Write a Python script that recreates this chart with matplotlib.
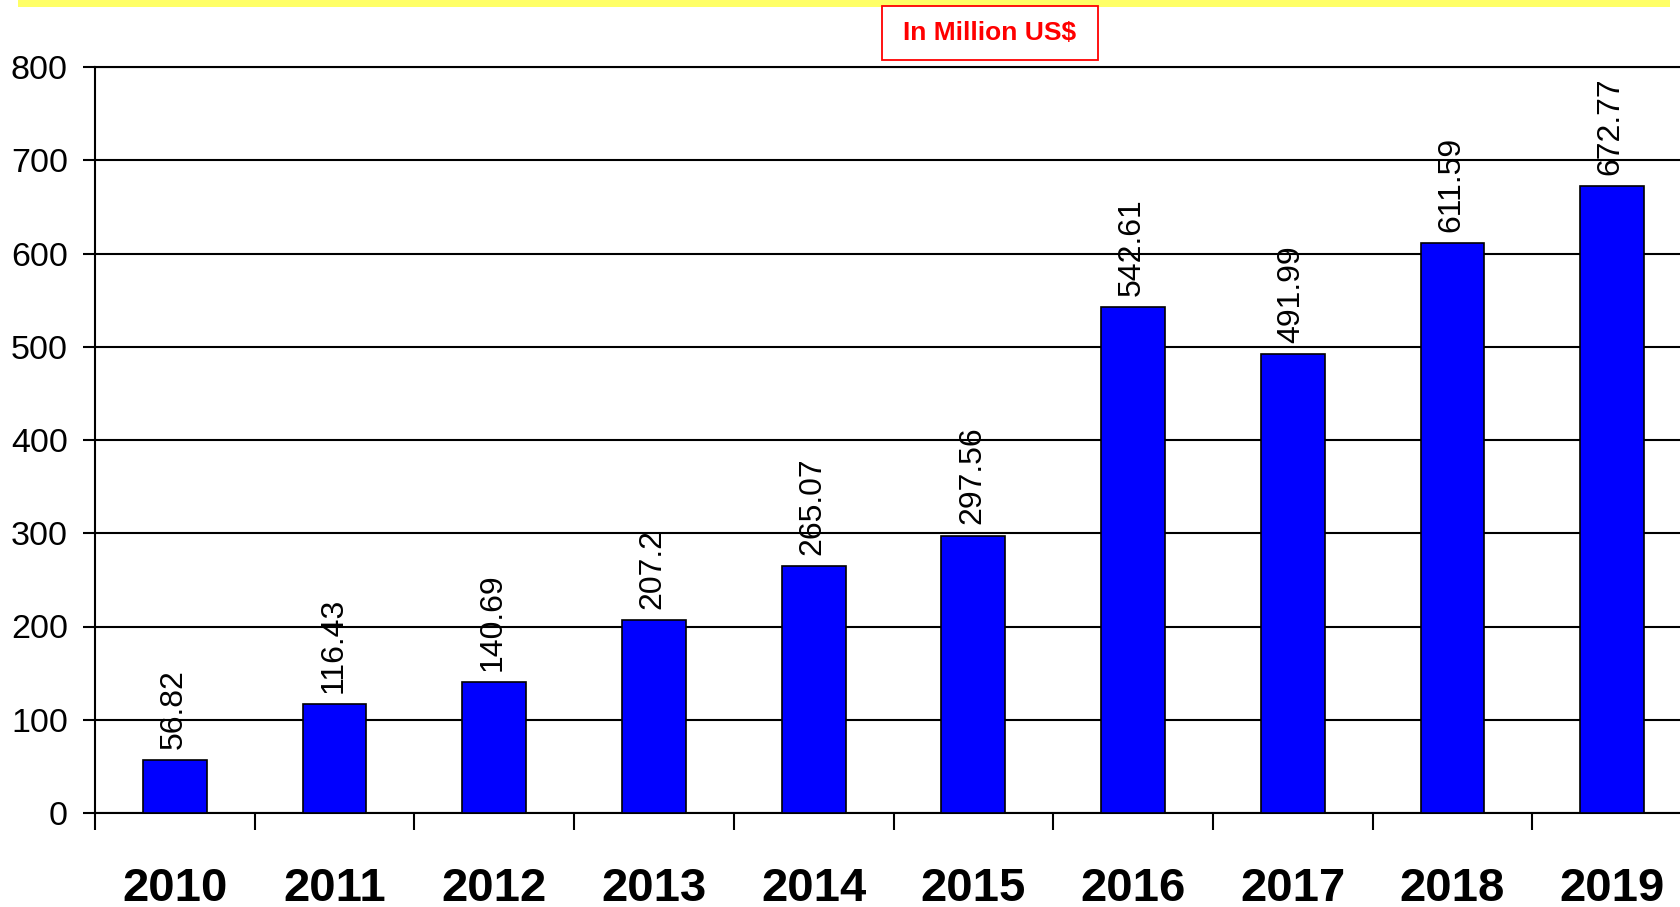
import matplotlib
matplotlib.use("Agg")
import matplotlib.pyplot as plt
from matplotlib.patches import Rectangle
from matplotlib.ticker import FixedLocator, NullFormatter

years = ["2010", "2011", "2012", "2013", "2014", "2015", "2016", "2017", "2018", "2019"]
values = [56.82, 116.43, 140.69, 207.2, 265.07, 297.56, 542.61, 491.99, 611.59, 672.77]
value_labels = ["56.82", "116.43", "140.69", "207.2", "265.07", "297.56",
                "542.61", "491.99", "611.59", "672.77"]
y_ticks = [0, 100, 200, 300, 400, 500, 600, 700, 800]
unit_label = "In Million US$"

plt.rcParams["font.family"] = ["Liberation Sans", "DejaVu Sans"]

W, H = 1681, 907
fig = plt.figure(figsize=(W / 100, H / 100), dpi=100)
fig.patch.set_facecolor("white")

# yellow strip along the top edge
fig.add_artist(Rectangle((18 / W, 1 - 7 / H), (1670 - 18) / W, 7 / H,
                         transform=fig.transFigure, facecolor="#FFFF66",
                         edgecolor="none"))

ax = fig.add_axes([95 / W, 1 - 813 / H, 1597 / W, (813 - 67) / H])
x = list(range(len(years)))
ax.bar(x, values, width=0.4, color="#0000FF", edgecolor="black",
       linewidth=1.2, zorder=3)

ax.set_xlim(-0.5, len(years) - 0.5)
ax.set_ylim(0, 800)

# horizontal gridlines
ax.set_yticks(y_ticks)
ax.set_yticklabels([str(t) for t in y_ticks])
ax.yaxis.grid(True, color="black", linewidth=1.5, zorder=1)
ax.set_axisbelow(True)
ax.tick_params(axis="y", which="major", direction="out", length=8.5,
               width=1.5, pad=11, labelsize=24.5, colors="black")

# category labels at bar centers, tick marks at the category boundaries
ax.set_xticks(x)
ax.set_xticklabels(years, fontsize=34, fontweight="bold")
ax.tick_params(axis="x", which="major", length=0, pad=39)
ax.xaxis.set_minor_locator(FixedLocator([i - 0.5 for i in range(len(years) + 1)]))
ax.xaxis.set_minor_formatter(NullFormatter())
ax.tick_params(axis="x", which="minor", direction="out", length=12,
               width=1.5, color="black")

ax.spines["right"].set_visible(False)
for s in ["top", "left", "bottom"]:
    ax.spines[s].set_linewidth(1.5)

# rotated value labels above each bar
for xi, v, lab in zip(x, values, value_labels):
    ax.annotate(lab, (xi, v), xytext=(-1, 8), textcoords="offset points",
                rotation=90, ha="center", va="bottom", fontsize=23,
                color="black", zorder=4)

# unit caption box
fig.add_artist(Rectangle((882 / W, 1 - 60 / H), (1098 - 882) / W, (60 - 6) / H,
                         transform=fig.transFigure, facecolor="white",
                         edgecolor="#FF0000", linewidth=1.3))
fig.text(990 / W, 1 - 32.5 / H, unit_label, color="#FF0000", fontsize=19,
         fontweight="bold", ha="center", va="center")

fig.savefig("out.png", dpi=100)
